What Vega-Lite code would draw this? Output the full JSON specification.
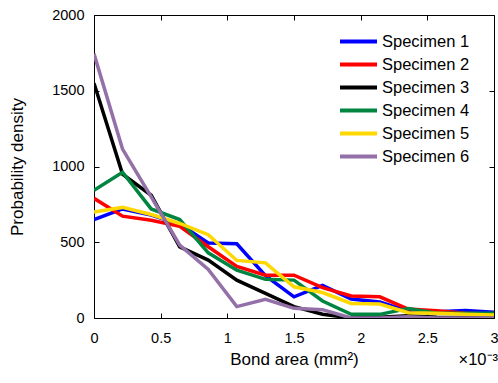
{
  "$schema": "https://vega.github.io/schema/vega-lite/v6.json",
  "autosize": "none",
  "width": 400,
  "height": 303,
  "padding": {"left": 94, "top": 15, "right": 4, "bottom": 65},
  "background": "white",
  "config": {
    "view": {"stroke": null},
    "font": "Liberation Sans",
    "axis": {
      "domainColor": "black", "domainWidth": 1, "tickColor": "black", "tickWidth": 1,
      "labelColor": "black", "labelFont": "Liberation Sans", "labelFontSize": 14.5,
      "titleColor": "black", "titleFont": "Liberation Sans", "titleFontSize": 17, "titleFontWeight": "normal",
      "grid": false
    },
    "title": {"font": "Liberation Sans", "fontSize": 16.5, "fontWeight": "normal", "color": "black"}
  },
  "title": {"text": "×10⁻³", "orient": "bottom", "anchor": "end", "offset": -16},
  "data": {"values": [
    {"x": 0, "specimen": "Specimen 1", "density": 650},
    {"x": 0.000214, "specimen": "Specimen 1", "density": 720},
    {"x": 0.000429, "specimen": "Specimen 1", "density": 680},
    {"x": 0.000643, "specimen": "Specimen 1", "density": 620},
    {"x": 0.000857, "specimen": "Specimen 1", "density": 495},
    {"x": 0.001071, "specimen": "Specimen 1", "density": 490},
    {"x": 0.001286, "specimen": "Specimen 1", "density": 280},
    {"x": 0.0015, "specimen": "Specimen 1", "density": 140},
    {"x": 0.001714, "specimen": "Specimen 1", "density": 215},
    {"x": 0.001929, "specimen": "Specimen 1", "density": 125},
    {"x": 0.002143, "specimen": "Specimen 1", "density": 105},
    {"x": 0.002357, "specimen": "Specimen 1", "density": 45},
    {"x": 0.002571, "specimen": "Specimen 1", "density": 42},
    {"x": 0.002786, "specimen": "Specimen 1", "density": 50},
    {"x": 0.003, "specimen": "Specimen 1", "density": 38},

    {"x": 0, "specimen": "Specimen 2", "density": 790},
    {"x": 0.000214, "specimen": "Specimen 2", "density": 672},
    {"x": 0.000429, "specimen": "Specimen 2", "density": 645},
    {"x": 0.000643, "specimen": "Specimen 2", "density": 605},
    {"x": 0.000857, "specimen": "Specimen 2", "density": 470},
    {"x": 0.001071, "specimen": "Specimen 2", "density": 340},
    {"x": 0.001286, "specimen": "Specimen 2", "density": 283},
    {"x": 0.0015, "specimen": "Specimen 2", "density": 283},
    {"x": 0.001714, "specimen": "Specimen 2", "density": 200},
    {"x": 0.001929, "specimen": "Specimen 2", "density": 145},
    {"x": 0.002143, "specimen": "Specimen 2", "density": 140},
    {"x": 0.002357, "specimen": "Specimen 2", "density": 59},
    {"x": 0.002571, "specimen": "Specimen 2", "density": 48},
    {"x": 0.002786, "specimen": "Specimen 2", "density": 31},
    {"x": 0.003, "specimen": "Specimen 2", "density": 24},

    {"x": 0, "specimen": "Specimen 3", "density": 1550},
    {"x": 0.000214, "specimen": "Specimen 3", "density": 950},
    {"x": 0.000429, "specimen": "Specimen 3", "density": 810},
    {"x": 0.000643, "specimen": "Specimen 3", "density": 470},
    {"x": 0.000857, "specimen": "Specimen 3", "density": 382},
    {"x": 0.001071, "specimen": "Specimen 3", "density": 250},
    {"x": 0.001286, "specimen": "Specimen 3", "density": 163},
    {"x": 0.0015, "specimen": "Specimen 3", "density": 75},
    {"x": 0.001714, "specimen": "Specimen 3", "density": 25},
    {"x": 0.001929, "specimen": "Specimen 3", "density": 0},
    {"x": 0.002143, "specimen": "Specimen 3", "density": 5},
    {"x": 0.002357, "specimen": "Specimen 3", "density": 15},
    {"x": 0.002571, "specimen": "Specimen 3", "density": 5},
    {"x": 0.002786, "specimen": "Specimen 3", "density": 3},
    {"x": 0.003, "specimen": "Specimen 3", "density": 3},

    {"x": 0, "specimen": "Specimen 4", "density": 843},
    {"x": 0.000214, "specimen": "Specimen 4", "density": 962},
    {"x": 0.000429, "specimen": "Specimen 4", "density": 720},
    {"x": 0.000643, "specimen": "Specimen 4", "density": 650},
    {"x": 0.000857, "specimen": "Specimen 4", "density": 430},
    {"x": 0.001071, "specimen": "Specimen 4", "density": 316},
    {"x": 0.001286, "specimen": "Specimen 4", "density": 255},
    {"x": 0.0015, "specimen": "Specimen 4", "density": 250},
    {"x": 0.001714, "specimen": "Specimen 4", "density": 112},
    {"x": 0.001929, "specimen": "Specimen 4", "density": 24},
    {"x": 0.002143, "specimen": "Specimen 4", "density": 24},
    {"x": 0.002357, "specimen": "Specimen 4", "density": 62},
    {"x": 0.002571, "specimen": "Specimen 4", "density": 31},
    {"x": 0.002786, "specimen": "Specimen 4", "density": 31},
    {"x": 0.003, "specimen": "Specimen 4", "density": 31},

    {"x": 0, "specimen": "Specimen 5", "density": 700},
    {"x": 0.000214, "specimen": "Specimen 5", "density": 730},
    {"x": 0.000429, "specimen": "Specimen 5", "density": 683},
    {"x": 0.000643, "specimen": "Specimen 5", "density": 624},
    {"x": 0.000857, "specimen": "Specimen 5", "density": 550},
    {"x": 0.001071, "specimen": "Specimen 5", "density": 380},
    {"x": 0.001286, "specimen": "Specimen 5", "density": 364},
    {"x": 0.0015, "specimen": "Specimen 5", "density": 206},
    {"x": 0.001714, "specimen": "Specimen 5", "density": 168},
    {"x": 0.001929, "specimen": "Specimen 5", "density": 96},
    {"x": 0.002143, "specimen": "Specimen 5", "density": 92},
    {"x": 0.002357, "specimen": "Specimen 5", "density": 35},
    {"x": 0.002571, "specimen": "Specimen 5", "density": 31},
    {"x": 0.002786, "specimen": "Specimen 5", "density": 24},
    {"x": 0.003, "specimen": "Specimen 5", "density": 20},

    {"x": 0, "specimen": "Specimen 6", "density": 1744},
    {"x": 0.000214, "specimen": "Specimen 6", "density": 1115},
    {"x": 0.000429, "specimen": "Specimen 6", "density": 800},
    {"x": 0.000643, "specimen": "Specimen 6", "density": 481},
    {"x": 0.000857, "specimen": "Specimen 6", "density": 320},
    {"x": 0.001071, "specimen": "Specimen 6", "density": 75},
    {"x": 0.001286, "specimen": "Specimen 6", "density": 123},
    {"x": 0.0015, "specimen": "Specimen 6", "density": 64},
    {"x": 0.001714, "specimen": "Specimen 6", "density": 55},
    {"x": 0.001929, "specimen": "Specimen 6", "density": 0},
    {"x": 0.002143, "specimen": "Specimen 6", "density": 0},
    {"x": 0.002357, "specimen": "Specimen 6", "density": 9},
    {"x": 0.002571, "specimen": "Specimen 6", "density": 0},
    {"x": 0.002786, "specimen": "Specimen 6", "density": 0},
    {"x": 0.003, "specimen": "Specimen 6", "density": 0}
  ]},
  "resolve": {"scale": {"x": "independent", "y": "independent"}, "axis": {"x": "independent", "y": "independent"}},
  "layer": [
    {
      "mark": {"type": "line", "strokeWidth": 3.5, "clip": true},
      "encoding": {
        "x": {"field": "x", "type": "quantitative",
              "scale": {"domain": [0, 0.003], "nice": false, "zero": false},
              "axis": {"title": "Bond area (mm²)", "values": [0, 0.0005, 0.001, 0.0015, 0.002, 0.0025, 0.003],
                       "labelExpr": "format(datum.value*1000, '.1~f')", "tickSize": -5, "labelPadding": 18,
                       "titlePadding": 7, "labelFlush": false}},
        "y": {"field": "density", "type": "quantitative",
              "scale": {"domain": [0, 2000], "nice": false},
              "axis": {"title": "Probability density", "values": [0, 500, 1000, 1500, 2000], "format": "d",
                       "tickSize": -5, "labelPadding": 15, "titlePadding": 25, "labelFlush": false}},
        "color": {"field": "specimen", "type": "nominal",
                  "scale": {"domain": ["Specimen 1", "Specimen 2", "Specimen 3", "Specimen 4", "Specimen 5", "Specimen 6"],
                            "range": ["#0000FF", "#FF0000", "#000000", "#008541", "#FFD800", "#9370A8"]},
                  "legend": {"title": null, "orient": "none", "legendX": 244, "legendY": 17,
                             "symbolType": "stroke", "symbolSize": 1369, "symbolStrokeWidth": 4,
                             "labelFontSize": 16.5, "labelFont": "Liberation Sans", "labelColor": "black",
                             "clipHeight": 19, "rowPadding": 4, "labelOffset": 3, "fillColor": "white"}}
      }
    },
    {
      "mark": {"type": "line", "opacity": 0},
      "encoding": {
        "x": {"field": "x", "type": "quantitative",
              "scale": {"domain": [0, 0.003], "nice": false, "zero": false},
              "axis": {"orient": "top", "title": null, "labels": false, "tickSize": -5,
                       "values": [0, 0.0005, 0.001, 0.0015, 0.002, 0.0025, 0.003]}},
        "y": {"field": "density", "type": "quantitative",
              "scale": {"domain": [0, 2000], "nice": false},
              "axis": {"orient": "right", "title": null, "labels": false, "tickSize": -5,
                       "values": [0, 500, 1000, 1500, 2000]}}
      }
    }
  ]
}
